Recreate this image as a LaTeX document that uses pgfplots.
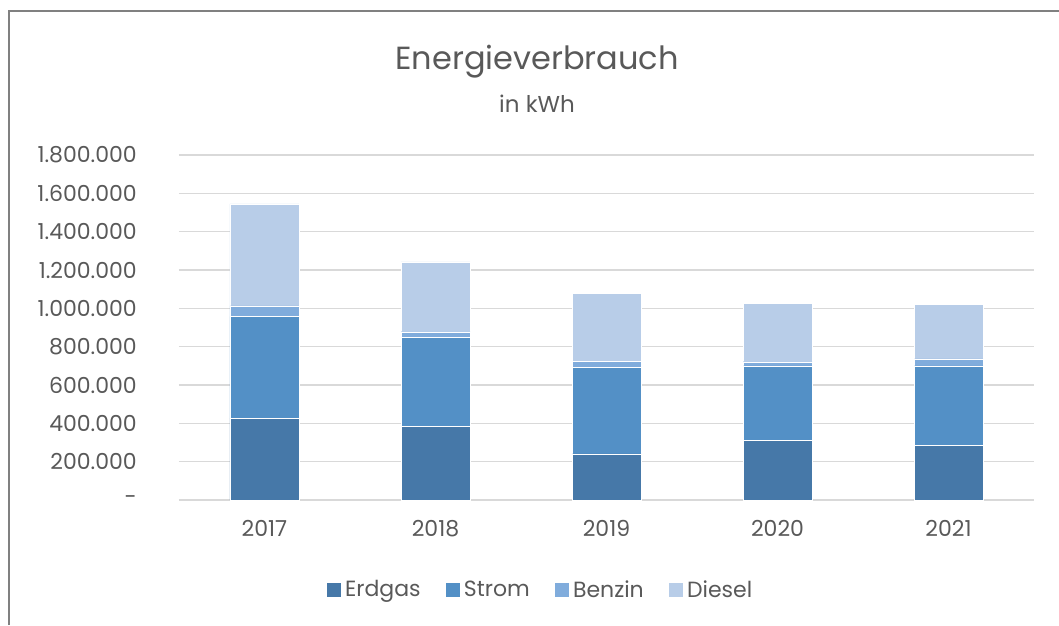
\documentclass[border=0pt]{standalone}
\usepackage{fontspec}
\setmainfont{Poppins}
\usepackage{pgfplots}
\pgfplotsset{compat=1.18}
\definecolor{txt}{RGB}{89,89,89}
\definecolor{gridc}{RGB}{217,217,217}
\definecolor{frame}{RGB}{128,128,128}
\definecolor{cErdgas}{RGB}{70,120,168}
\definecolor{cStrom}{RGB}{83,144,198}
\definecolor{cBenzin}{RGB}{128,172,220}
\definecolor{cDiesel}{RGB}{184,205,232}
\begin{document}
\begin{tikzpicture}[x=1pt,y=1pt]
\useasboundingbox (-179,-125) rectangle (880,500);
\draw[frame, line width=2pt] (-170,-125) -- (-170,489) -- (880,489);
\begin{axis}[
  at={(0,0)}, anchor=south west,
  scale only axis, width=855pt, height=345pt,
  xmin=-0.5, xmax=4.5, ymin=0, ymax=1800000,
  ybar stacked, bar width=69pt,
  axis line style={draw=none},
  major tick length=0pt,
  ymajorgrids, grid style={gridc, line width=1.3pt},
  xtick={0,1,2,3,4},
  xticklabels={2017,2018,2019,2020,2021},
  ytick={0,200000,400000,600000,800000,1000000,1200000,1400000,1600000,1800000},
  yticklabels={{-\hspace{12pt}},200.000,400.000,600.000,800.000,1.000.000,1.200.000,1.400.000,1.600.000,1.800.000},
  scaled y ticks=false,
  ticklabel style={font=\fontsize{22}{26}\selectfont, text=txt},
  yticklabel style={anchor=east, inner sep=0pt, xshift=-42pt},
  xticklabel style={anchor=north, inner sep=0pt, yshift=-20pt},
  legend columns=4,
  legend style={draw=none, fill=none, at={(0.4234,-0.2594)}, anchor=center,
    font=\fontsize{22}{26}\selectfont, text=txt,
    /tikz/every even column/.append style={column sep=20pt},
    nodes={inner xsep=4pt, inner ysep=0pt}},
  legend image code/.code={\fill[#1] (0pt,-7.5pt) rectangle (15pt,7.5pt);},
  every axis plot/.append style={draw=white, line width=0.3pt},
]
\addplot[fill=cErdgas] coordinates {(0,427500) (1,384000) (2,240500) (3,311700) (4,285700)};
\addplot[fill=cStrom] coordinates {(0,530000) (1,464000) (2,452000) (3,388000) (4,414000)};
\addplot[fill=cBenzin] coordinates {(0,56000) (1,30000) (2,30000) (3,22000) (4,36000)};
\addplot[fill=cDiesel] coordinates {(0,531000) (1,365000) (2,355000) (3,305000) (4,284000)};
\legend{Erdgas,Strom,Benzin,Diesel}
\end{axis}
\node[anchor=base, text=txt, font=\fontsize{32}{38}\selectfont] at (358,430) {Energieverbrauch};
\node[anchor=base, text=txt, font=\fontsize{23}{28}\selectfont] at (358,388) {in kWh};
\end{tikzpicture}
\end{document}
